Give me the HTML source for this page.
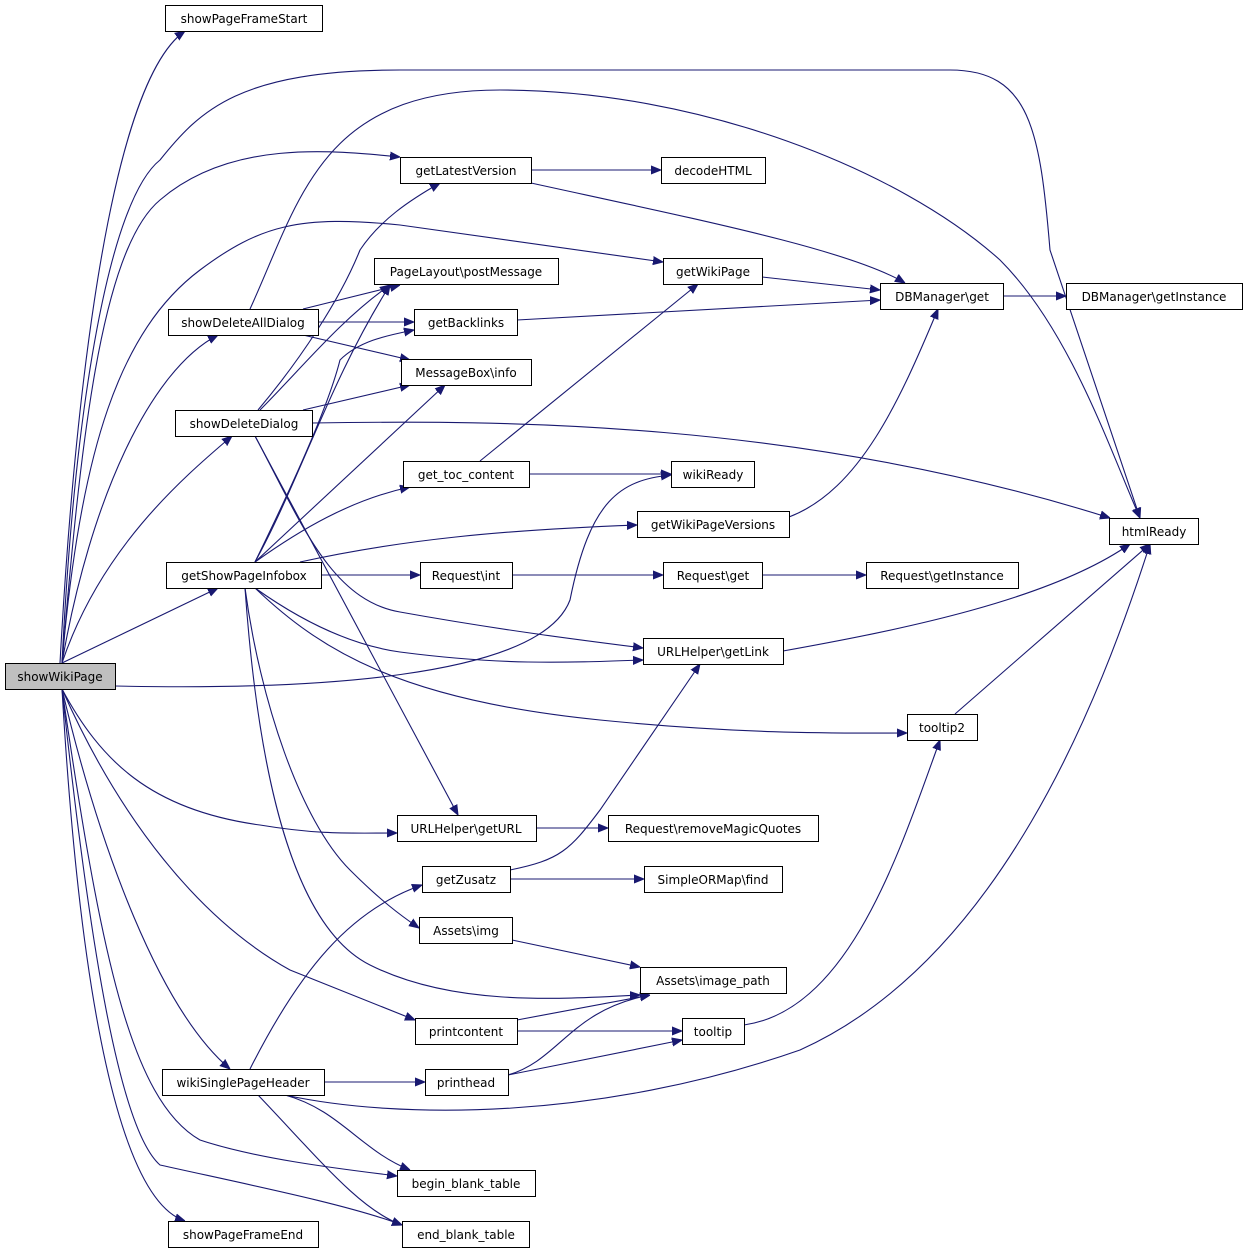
<!DOCTYPE html>
<html><head><meta charset="utf-8"><style>
html,body{margin:0;padding:0;background:#fff}
svg{display:block}
text{font-family:"DejaVu Sans","Liberation Sans",sans-serif;font-size:12px;fill:#000}
.e{fill:none;stroke:#191970;stroke-width:1.1}
rect{fill:#fff;stroke:#000;stroke-width:1}
</style></head><body>
<svg width="1248" height="1253" viewBox="0 0 1248 1253" xmlns="http://www.w3.org/2000/svg">
<defs><marker id="a" viewBox="0 0 10 10" refX="10" refY="5" markerWidth="10" markerHeight="10" markerUnits="userSpaceOnUse" orient="auto"><path d="M0,1 L10,5 L0,9 z" fill="#191970" stroke="#191970"/></marker></defs>
<g marker-end="url(#a)">
<path class="e" d="M60,663 C70,480 100,90 185,31"/>
<path class="e" d="M62,663 C75,400 110,200 160,160 C200,110 240,70 400,70 L950,70 C1030,70 1040,130 1050,250 L1140,518"/>
<path class="e" d="M62,663 C80,450 100,250 160,200 C230,140 330,150 400,157"/>
<path class="e" d="M62,663 C80,450 120,330 200,270 C260,225 300,215 400,225 L663,262"/>
<path class="e" d="M62,663 C90,500 150,370 218,335"/>
<path class="e" d="M62,663 C100,550 180,480 232,436"/>
<path class="e" d="M62,663 L218,588"/>
<path class="e" d="M115,686 C300,690 540,680 570,600 C590,500 620,480 671,475"/>
<path class="e" d="M62,689 C100,760 150,810 260,825 C320,835 350,833 397,833"/>
<path class="e" d="M62,689 C120,820 200,920 290,970 L415,1020"/>
<path class="e" d="M62,689 C100,850 160,1010 230,1069"/>
<path class="e" d="M62,689 C100,950 130,1100 200,1140 C260,1160 350,1170 397,1176"/>
<path class="e" d="M62,689 C90,950 120,1130 160,1165 C250,1185 350,1205 402,1225"/>
<path class="e" d="M62,689 C80,1000 120,1200 185,1221"/>
<path class="e" d="M250,309 C300,200 320,90 500,90 C700,90 900,170 1000,260 C1070,330 1110,450 1140,518"/>
<path class="e" d="M303,309 L400,285"/>
<path class="e" d="M318,322 L414,322"/>
<path class="e" d="M303,335 L410,360"/>
<path class="e" d="M258,410 C300,360 340,300 360,250 C380,220 410,200 440,183"/>
<path class="e" d="M260,410 C300,370 340,320 390,285"/>
<path class="e" d="M303,410 L410,385"/>
<path class="e" d="M312,423 C500,420 800,420 1110,518"/>
<path class="e" d="M255,436 L458,815"/>
<path class="e" d="M255,436 C300,520 330,600 400,612 C500,630 580,640 643,648"/>
<path class="e" d="M255,562 C300,480 330,380 390,285"/>
<path class="e" d="M255,562 C300,470 330,400 340,360 C360,340 390,335 414,330"/>
<path class="e" d="M255,562 L445,385"/>
<path class="e" d="M255,562 C300,530 350,500 410,487"/>
<path class="e" d="M300,562 C400,540 500,530 637,525"/>
<path class="e" d="M321,575 L420,575"/>
<path class="e" d="M255,588 C300,620 350,645 400,652 C500,665 560,663 643,660"/>
<path class="e" d="M255,588 C320,650 400,700 600,720 C750,735 850,733 907,733"/>
<path class="e" d="M245,588 C260,800 300,930 370,965 C450,1005 550,1000 640,995"/>
<path class="e" d="M245,588 C260,700 300,820 350,870 C380,900 400,915 419,928"/>
<path class="e" d="M480,461 L698,284"/>
<path class="e" d="M529,474 L671,474"/>
<path class="e" d="M531,170 L661,170"/>
<path class="e" d="M531,183 C700,220 850,250 905,283"/>
<path class="e" d="M762,277 L880,290"/>
<path class="e" d="M517,320 L880,300"/>
<path class="e" d="M1003,296 L1066,296"/>
<path class="e" d="M789,517 C860,490 900,400 938,309"/>
<path class="e" d="M512,575 L663,575"/>
<path class="e" d="M762,575 L866,575"/>
<path class="e" d="M783,651 C900,630 1050,600 1130,544"/>
<path class="e" d="M955,714 L1150,544"/>
<path class="e" d="M536,828 L608,828"/>
<path class="e" d="M510,870 C560,860 570,850 600,810 L700,664"/>
<path class="e" d="M510,879 L644,879"/>
<path class="e" d="M512,940 L640,967"/>
<path class="e" d="M517,1020 L650,995"/>
<path class="e" d="M517,1031 L682,1031"/>
<path class="e" d="M744,1025 C850,1010 900,850 940,740"/>
<path class="e" d="M250,1069 C300,970 350,910 422,885"/>
<path class="e" d="M324,1082 L425,1082"/>
<path class="e" d="M285,1095 C400,1120 600,1120 800,1050 C1000,960 1100,700 1150,544"/>
<path class="e" d="M285,1095 C340,1110 360,1150 410,1170"/>
<path class="e" d="M258,1095 C320,1160 360,1210 402,1225"/>
<path class="e" d="M508,1075 C560,1060 570,1010 650,995"/>
<path class="e" d="M508,1075 L682,1040"/>
</g>
<g>
<rect x="5.5" y="663.5" width="110" height="26" style="fill:#bfbfbf"/><text x="60" y="681" text-anchor="middle">showWikiPage</text>
<rect x="165.5" y="5.5" width="157" height="26"/><text x="244" y="23" text-anchor="middle">showPageFrameStart</text>
<rect x="400.5" y="157.5" width="131" height="26"/><text x="466" y="175" text-anchor="middle">getLatestVersion</text>
<rect x="661.5" y="157.5" width="104" height="26"/><text x="713" y="175" text-anchor="middle">decodeHTML</text>
<rect x="374.5" y="258.5" width="184" height="26"/><text x="466" y="276" text-anchor="middle">PageLayout\postMessage</text>
<rect x="663.5" y="258.5" width="99" height="26"/><text x="713" y="276" text-anchor="middle">getWikiPage</text>
<rect x="168.5" y="309.5" width="150" height="26"/><text x="243" y="327" text-anchor="middle">showDeleteAllDialog</text>
<rect x="414.5" y="309.5" width="103" height="26"/><text x="466" y="327" text-anchor="middle">getBacklinks</text>
<rect x="880.5" y="283.5" width="123" height="26"/><text x="942" y="301" text-anchor="middle">DBManager\get</text>
<rect x="1066.5" y="283.5" width="176" height="26"/><text x="1154" y="301" text-anchor="middle">DBManager\getInstance</text>
<rect x="401.5" y="359.5" width="130" height="26"/><text x="466" y="377" text-anchor="middle">MessageBox\info</text>
<rect x="175.5" y="410.5" width="137" height="26"/><text x="244" y="428" text-anchor="middle">showDeleteDialog</text>
<rect x="403.5" y="461.5" width="126" height="26"/><text x="466" y="479" text-anchor="middle">get_toc_content</text>
<rect x="671.5" y="461.5" width="83" height="26"/><text x="713" y="479" text-anchor="middle">wikiReady</text>
<rect x="637.5" y="511.5" width="152" height="26"/><text x="713" y="529" text-anchor="middle">getWikiPageVersions</text>
<rect x="1109.5" y="518.5" width="89" height="26"/><text x="1154" y="536" text-anchor="middle">htmlReady</text>
<rect x="166.5" y="562.5" width="155" height="26"/><text x="244" y="580" text-anchor="middle">getShowPageInfobox</text>
<rect x="420.5" y="562.5" width="92" height="26"/><text x="466" y="580" text-anchor="middle">Request\int</text>
<rect x="663.5" y="562.5" width="99" height="26"/><text x="713" y="580" text-anchor="middle">Request\get</text>
<rect x="866.5" y="562.5" width="152" height="26"/><text x="942" y="580" text-anchor="middle">Request\getInstance</text>
<rect x="643.5" y="638.5" width="140" height="26"/><text x="713" y="656" text-anchor="middle">URLHelper\getLink</text>
<rect x="907.5" y="714.5" width="70" height="26"/><text x="942" y="732" text-anchor="middle">tooltip2</text>
<rect x="397.5" y="815.5" width="139" height="26"/><text x="466" y="833" text-anchor="middle">URLHelper\getURL</text>
<rect x="608.5" y="815.5" width="210" height="26"/><text x="713" y="833" text-anchor="middle">Request\removeMagicQuotes</text>
<rect x="422.5" y="866.5" width="88" height="26"/><text x="466" y="884" text-anchor="middle">getZusatz</text>
<rect x="644.5" y="866.5" width="138" height="26"/><text x="713" y="884" text-anchor="middle">SimpleORMap\find</text>
<rect x="419.5" y="917.5" width="93" height="26"/><text x="466" y="935" text-anchor="middle">Assets\img</text>
<rect x="640.5" y="967.5" width="146" height="26"/><text x="713" y="985" text-anchor="middle">Assets\image_path</text>
<rect x="415.5" y="1018.5" width="102" height="26"/><text x="466" y="1036" text-anchor="middle">printcontent</text>
<rect x="682.5" y="1018.5" width="62" height="26"/><text x="713" y="1036" text-anchor="middle">tooltip</text>
<rect x="162.5" y="1069.5" width="162" height="26"/><text x="243" y="1087" text-anchor="middle">wikiSinglePageHeader</text>
<rect x="425.5" y="1069.5" width="83" height="26"/><text x="466" y="1087" text-anchor="middle">printhead</text>
<rect x="397.5" y="1170.5" width="138" height="26"/><text x="466" y="1188" text-anchor="middle">begin_blank_table</text>
<rect x="168.5" y="1221.5" width="150" height="26"/><text x="243" y="1239" text-anchor="middle">showPageFrameEnd</text>
<rect x="402.5" y="1221.5" width="127" height="26"/><text x="466" y="1239" text-anchor="middle">end_blank_table</text>
</g>
</svg>
</body></html>
